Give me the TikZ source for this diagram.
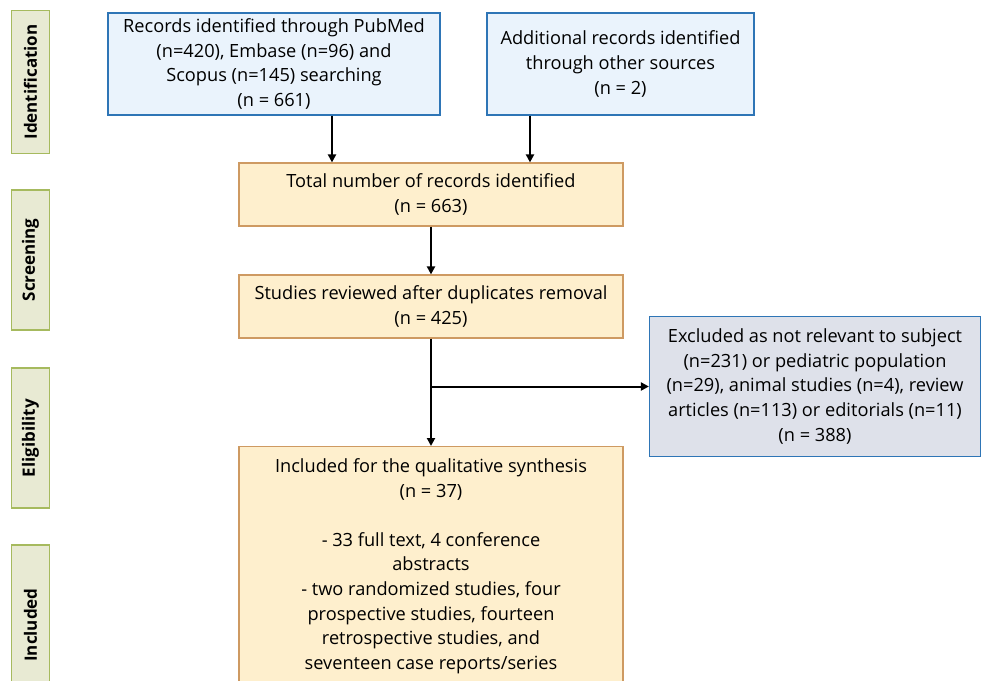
\documentclass[tikz,border=0pt]{standalone}
\usepackage{fontspec}
\setmainfont{Open Sans}
\usetikzlibrary{arrows.meta}

\tikzset{
  box/.style={draw, line width=1.2pt, align=center, inner sep=0pt, font=\fontsize{18.2}{24.6}\selectfont},
  srcbox/.style={box, draw=srcborder, fill=srcfill},
  mainbox/.style={box, draw=mainborder, fill=mainfill},
  exclbox/.style={box, draw=srcborder, fill=exclfill},
  stagebox/.style={draw=stageborder, fill=stagefill, line width=1.5pt, minimum width=38pt, inner sep=0pt,
    font=\fontsize{17}{20}\selectfont\bfseries},
  arr/.style={-{Triangle[length=8pt,width=8pt]}, line width=2pt}
}

\begin{document}
\begin{tikzpicture}[x=1pt, y=-1pt]

\definecolor{srcborder}{HTML}{2E75B6}
\definecolor{srcfill}{HTML}{EAF3FC}
\definecolor{mainborder}{HTML}{CE9A62}
\definecolor{mainfill}{HTML}{FEEFCD}
\definecolor{exclfill}{HTML}{DEE1EA}
\definecolor{stageborder}{HTML}{A6BA5E}
\definecolor{stagefill}{HTML}{E8EAD3}

\useasboundingbox (0,0) rectangle (982,680);
\clip (0,0) rectangle (982,680);

% stages
\node[stagebox, minimum height=143pt] (ident) at (30.5,82) {\rotatebox{90}{Identification}};
\node[stagebox, minimum height=140pt] (screen) at (30.5,260) {\rotatebox{90}{Screening}};
\node[stagebox, minimum height=140pt] (elig) at (30.5,438) {\rotatebox{90}{Eligibility}};
\node[stagebox, minimum height=160pt] (incl) at (30.5,625) {\rotatebox{90}{Included}};

% boxes
\node[srcbox, minimum width=332pt, minimum height=102pt] (pubmed) at (274,64)
  {Records identified through PubMed\\(n=420), Embase (n=96) and\\Scopus (n=145) searching\\(n = 661)};
\node[srcbox, minimum width=267pt, minimum height=102pt] (other) at (620.5,64)
  {Additional records identified\\through other sources\\(n = 2)};
\node[mainbox, minimum width=384pt, minimum height=63pt] (total) at (431,194.5)
  {Total number of records identified\\(n = 663)};
\node[mainbox, minimum width=384pt, minimum height=63pt] (dedup) at (431,306.5)
  {Studies reviewed after duplicates removal\\(n = 425)};
\node[exclbox, minimum width=331pt, minimum height=140pt] (excl) at (815,386.5)
  {Excluded as not relevant to subject\\(n=231) or pediatric population\\(n=29), animal studies (n=4), review\\articles (n=113) or editorials (n=11)\\(n = 388)};
\node[mainbox, minimum width=384pt, inner ysep=12pt, anchor=north] (incl2) at (431,446)
  {Included for the qualitative synthesis\\(n = 37)\\[24.6pt]
   - 33 full text, 4 conference\\abstracts\\- two randomized studies, four\\prospective studies, fourteen\\retrospective studies, and\\seventeen case reports/series\\[10pt]};

% arrows
\draw[arr] ([xshift=58pt]pubmed.south) -- ([xshift=-99pt]total.north);
\draw[arr] ([xshift=-90.5pt]other.south) -- ([xshift=99pt]total.north);
\draw[arr] (total) -- (dedup);
\draw[arr] (dedup) -- (incl2);
\coordinate (split) at (dedup.south |- excl.west);
\draw[arr] (split) -- (excl);

\end{tikzpicture}
\end{document}
